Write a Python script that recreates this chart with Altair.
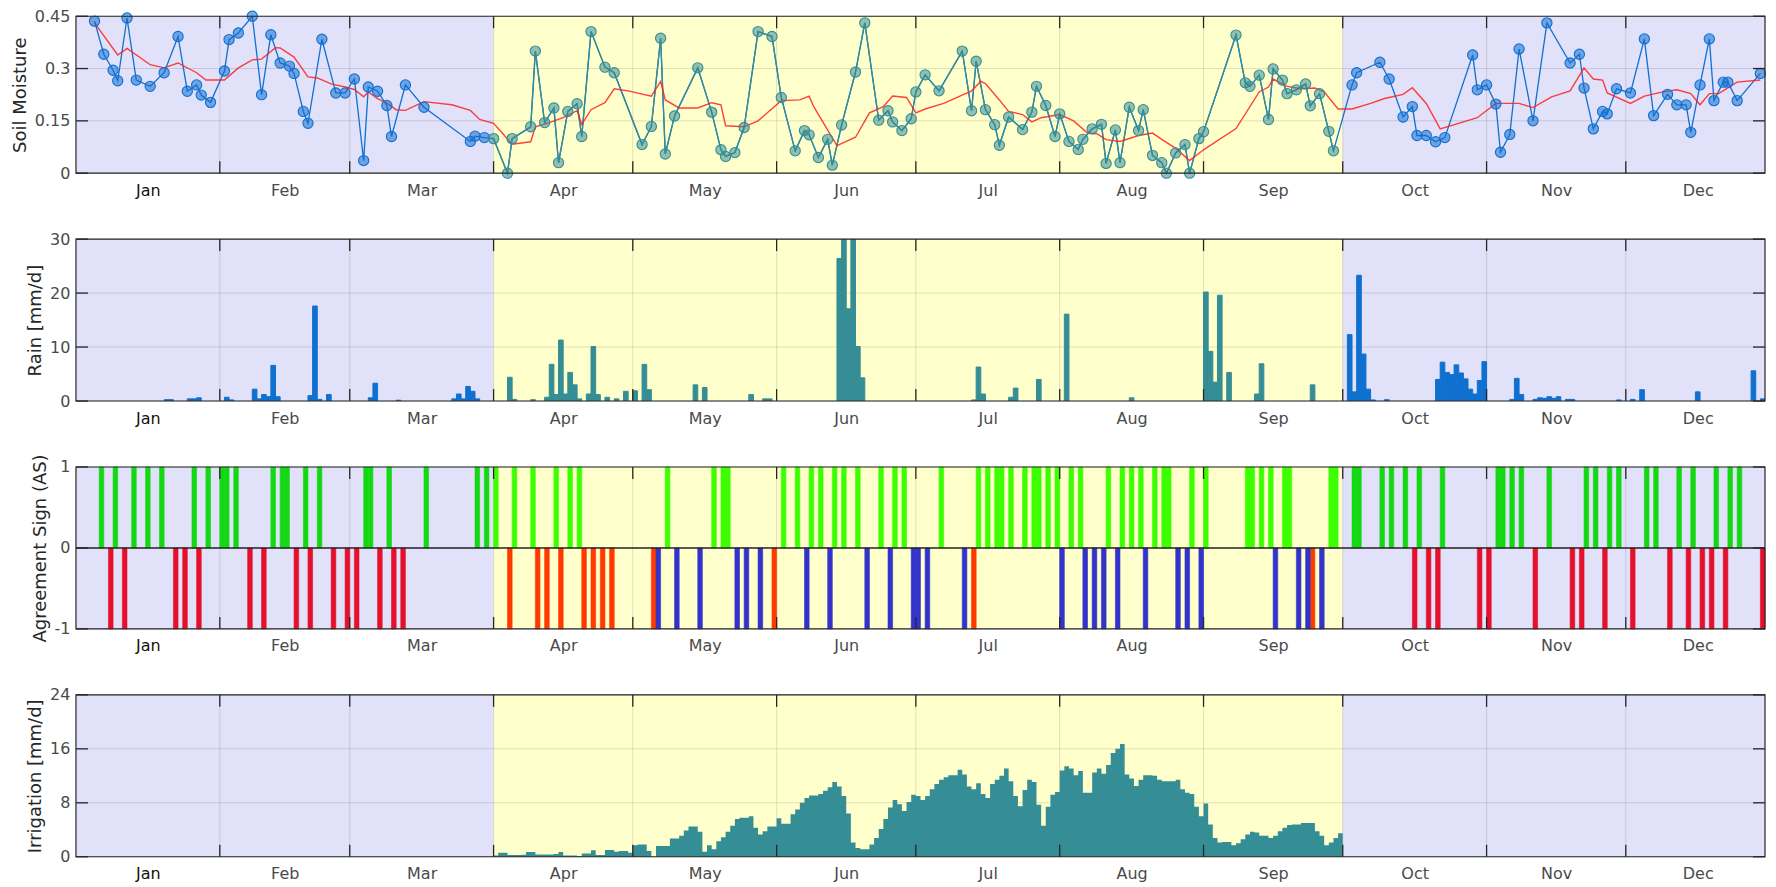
import altair as alt
import pandas as pd

FONT = "DejaVu Sans"
INK = "#262626"
LABEL_GREY = "#4a4a4a"
W = 1690
H1 = 157
H = 162
TL = 12

MONTHS = ["Jan", "Feb", "Mar", "Apr", "May", "Jun", "Jul", "Aug", "Sep", "Oct", "Nov", "Dec"]
MONTH_START = [1, 32, 60, 91, 121, 152, 182, 213, 244, 274, 305, 335]
MONTH_LEN = [31, 28, 31, 30, 31, 30, 31, 31, 30, 31, 30, 31]
DAY_MIN, DAY_MAX = 1, 365
SEASON_EDGES = [1, 91, 274, 366]
SEASON_KIND = ["off", "irr", "off"]

# soil moisture observations (day of year, value)
SOIL = [
    (5, .436), (7, .341), (9, .295), (10, .265), (12, .445), (14, .267), (17, .249), (20, .288),
    (23, .392), (25, .235), (27, .253), (28, .224), (30, .203), (33, .293), (34, .383), (36, .402),
    (39, .450), (41, .225), (43, .397), (45, .316), (47, .307), (48, .286), (50, .177), (51, .143),
    (54, .384), (57, .230), (59, .230), (61, .270), (63, .036), (64, .247), (66, .235), (68, .194),
    (69, .105), (72, .253), (76, .189), (86, .091), (87, .106), (89, .102),
    (91, .099), (94, .0), (95, .099), (99, .133), (100, .350), (102, .145), (104, .187), (105, .030),
    (107, .177), (109, .199), (110, .105), (112, .406), (115, .304), (117, .288), (123, .082),
    (125, .134), (127, .387), (128, .055), (130, .164), (135, .302), (138, .175), (140, .067),
    (141, .048), (143, .059), (145, .131), (148, .406), (151, .392), (153, .217), (156, .064),
    (158, .122), (159, .110), (161, .045), (163, .097), (164, .023), (166, .138), (169, .290),
    (171, .431), (174, .152), (176, .179), (177, .147), (179, .122), (181, .156), (182, .233),
    (184, .282), (187, .236), (192, .350), (194, .179), (195, .321), (197, .182), (199, .139),
    (200, .080), (202, .161), (205, .125), (207, .175), (208, .249), (210, .194), (212, .105),
    (213, .170), (215, .091), (217, .068), (218, .097), (220, .127), (222, .140), (223, .028),
    (225, .124), (226, .030), (228, .189), (230, .122), (231, .182), (233, .051), (235, .030),
    (236, .0), (238, .058), (240, .082), (241, .0), (243, .099), (244, .119), (251, .396),
    (253, .259), (254, .249), (256, .281), (258, .154), (259, .299), (261, .267), (262, .228),
    (264, .239), (266, .256), (267, .193), (269, .228), (271, .120), (272, .064),
    (276, .253), (277, .288), (282, .318), (284, .270), (287, .161), (289, .191), (290, .108),
    (292, .108), (294, .090), (296, .102), (302, .339), (303, .239), (305, .253), (307, .198),
    (308, .060), (310, .111), (312, .356), (315, .150), (318, .431), (323, .316), (325, .341),
    (326, .244), (328, .127), (330, .177), (331, .170), (333, .242), (336, .230), (339, .385),
    (341, .165), (344, .226), (346, .196), (348, .196), (349, .117), (351, .253), (353, .385),
    (354, .208), (356, .261), (357, .261), (359, .208), (364, .286),
]

# running mean (red line)
RUNMEAN = [
    (5, .431), (10, .339), (12, .358), (17, .311), (20, .302), (23, .316), (27, .288), (29, .267),
    (33, .267), (36, .302), (39, .325), (41, .327), (44, .360), (45, .359), (48, .333), (51, .276),
    (53, .273), (56, .256), (59, .247), (61, .240), (63, .219), (64, .233), (66, .214), (68, .201),
    (70, .182), (72, .180), (76, .205), (82, .196), (86, .180), (88, .154), (91, .143), (93, .113),
    (95, .083), (99, .090), (100, .133), (103, .145), (106, .159), (109, .179), (110, .140),
    (112, .182), (115, .202), (117, .242), (120, .236), (125, .221), (127, .263), (128, .210),
    (131, .187), (135, .187), (138, .202), (140, .196), (141, .136), (145, .133), (148, .150),
    (153, .208), (157, .210), (159, .221), (160, .191), (165, .079), (169, .103), (172, .173),
    (175, .191), (177, .221), (180, .217), (182, .173), (184, .184), (188, .200), (194, .236),
    (196, .263), (197, .257), (200, .210), (202, .177), (205, .168), (207, .147), (209, .159),
    (213, .168), (216, .150), (219, .115), (221, .113), (223, .096), (226, .091), (230, .108),
    (233, .115), (235, .097), (238, .071), (241, .036), (244, .067), (251, .128), (256, .233),
    (258, .247), (259, .270), (262, .249), (265, .242), (268, .244), (270, .233), (273, .184),
    (276, .184), (280, .200), (283, .214), (287, .226), (289, .245), (292, .200), (295, .127),
    (303, .159), (307, .200), (312, .200), (315, .188), (319, .219), (323, .236), (326, .302),
    (328, .270), (330, .267), (331, .230), (336, .200), (339, .221), (343, .233), (346, .239),
    (349, .228), (351, .196), (353, .228), (355, .228), (359, .261), (364, .267),
]

# daily rain, only the non-zero days (day, mm/d)
RAIN = [
    (20, .25), (21, .25), (25, .4), (26, .4), (27, .6),
    (33, .7), (34, .2), (39, 2.2), (40, .4), (41, 1.2), (42, .8), (43, 6.6), (44, .8), (51, 1.0),
    (52, 17.6), (53, .3), (55, 1.2),
    (64, .6), (65, 3.3), (70, .15), (82, .4), (83, 1.3), (84, .4), (85, 2.7), (86, 1.8), (87, .4),
    (94, 4.4), (95, .3), (99, .25), (102, .7), (103, 6.8), (104, 1.2), (105, 11.3), (106, 1.3),
    (107, 5.3), (108, 3.0), (109, .4), (111, 1.3), (112, 10.1), (113, 1.2), (115, .7), (117, .4),
    (119, 1.8),
    (121, 1.9), (123, 6.8), (124, 2.1), (134, 3.0), (136, 2.5), (146, 1.2), (149, .4), (150, .4),
    (165, 26.4), (166, 34.0), (167, 17.1), (168, 33.0), (169, 10.1), (170, 4.3),
    (194, .2), (195, 6.3), (196, 1.3), (202, .7), (203, 2.4), (208, 4.0),
    (214, 16.1), (228, .6),
    (244, 20.2), (245, 9.2), (246, 3.5), (247, 19.6), (249, 5.3), (255, 1.3), (256, 6.9), (267, 3.0),
    (275, 12.3), (276, 1.7), (277, 23.3), (278, 8.7), (279, 2.2), (280, .2), (283, .25),
    (294, 4.0), (295, 7.2), (296, 5.3), (297, 4.9), (298, 6.7), (299, 5.2), (300, 4.1), (301, 2.2),
    (302, 1.3), (303, 3.8), (304, 7.3),
    (310, .3), (311, 4.2), (312, 1.2), (315, .3), (316, .6), (317, .5), (318, .8), (319, .5),
    (320, .8), (322, .3), (323, .3), (333, .2),
    (336, .3), (338, 2.1), (350, 1.7), (362, 5.6), (364, .4),
]

# agreement sign days
AGREE_DAYS = [
    6, 9, 13, 16, 19, 26, 29, 32, 33, 35, 43, 45, 46, 50, 53, 63, 64, 68, 76, 87, 89,
    91, 95, 99, 104, 107, 109, 128, 138, 140, 141, 153, 156, 159, 161, 164, 166, 169, 174, 177,
    179, 187, 195, 197, 199, 200, 202, 205, 207, 208, 210, 212, 215, 217, 223, 226, 228, 230, 233,
    235, 236, 241, 244, 253, 254, 256, 258, 261, 262, 271, 272,
    276, 277, 282, 284, 287, 290, 295, 307, 308, 310, 312, 318, 326, 328, 331, 333, 339, 341, 346,
    349, 354, 357, 359,
]
DISAGREE_DAYS = [
    8, 11, 22, 24, 27, 38, 41, 48, 51, 56, 59, 61, 66, 69, 71,
    94, 100, 102, 105, 110, 112, 114, 116, 125, 151, 194, 267,
    289, 292, 294, 303, 305, 315, 323, 325, 330, 336, 344, 348, 351, 353, 356, 364,
]
IRRIGATED_DRY_DAYS = [
    126, 130, 135, 143, 145, 148, 158, 163, 171, 176, 181, 182, 184, 192, 213, 218, 220, 222,
    225, 231, 238, 240, 243, 259, 264, 266, 269,
]

# daily irrigation, Apr 1 .. Sep 30
IRR_APR = [0.2, 0.6, 0.6, 0.25, 0.25, 0.25, 0.3, 0.7, 0.7, 0.35, 0.35, 0.35, 0.35, 0.4, 0.7,
           0.2, 0.2, 0.2, 0.1, 0.5, 0.5, 0.95, 0.25, 0.25, 1.0, 1.0, 0.75, 0.85, 0.85, 0.6]
IRR_MAY = [1.7, 1.8, 1.8, 0.85, 0.0, 1.6, 1.6, 1.6, 2.7, 2.7, 3.1, 3.9, 4.5, 4.5, 3.7, 0.75,
           1.7, 1.1, 2.3, 2.9, 3.7, 4.6, 5.6, 5.8, 5.8, 6.0, 4.3, 3.3, 3.8, 4.5, 4.5]
IRR_JUN = [5.7, 4.9, 4.9, 6.3, 7.0, 8.0, 8.7, 9.1, 9.1, 9.3, 9.8, 10.3, 11.1, 10.4, 9.0, 6.4,
           2.1, 1.3, 1.1, 1.1, 1.8, 2.8, 4.1, 5.6, 7.3, 8.4, 7.8, 6.8, 8.1, 9.2]
IRR_JUL = [9.0, 8.4, 9.0, 10.0, 10.8, 11.4, 11.8, 12.1, 12.1, 12.9, 12.2, 10.4, 10.0, 10.9, 9.3,
           8.7, 10.8, 11.4, 12.0, 13.1, 11.2, 9.0, 7.5, 9.9, 11.4, 11.1, 7.7, 4.6, 7.4, 9.2, 9.6]
IRR_AUG = [12.8, 13.4, 13.1, 12.1, 12.7, 9.5, 9.5, 12.5, 13.1, 12.3, 13.6, 15.4, 16.0, 16.7,
           12.2, 11.6, 10.5, 11.4, 12.1, 12.1, 12.0, 11.4, 11.2, 11.2, 11.2, 11.4, 10.0, 9.5, 9.3,
           7.4, 6.0]
IRR_SEP = [7.9, 4.8, 2.8, 2.1, 2.2, 2.2, 1.7, 2.0, 2.6, 3.3, 3.7, 3.6, 3.1, 3.1, 2.8, 3.1, 3.8,
           4.3, 4.7, 4.8, 4.8, 5.0, 5.0, 5.0, 3.8, 3.1, 1.7, 2.1, 2.8, 3.5]

SM_TICKS = [0, 0.15, 0.3, 0.45]
RAIN_TICKS = [0, 10, 20, 30]
AS_TICKS = [-1, 0, 1]
IRR_TICKS = [0, 8, 16, 24]

# colours
BG_COL = ["#e1e1fa", "#ffffcc"]
BLUE = "#1070d0"
TEAL = "#358d95"
RED = "#ff1f1f"
AS_KEYS = ["agree_off", "agree_irr", "dis_off", "dis_irr", "irr"]
AS_COLS = ["#14d814", "#3cff00", "#e4102c", "#ff3a00", "#3333cc"]


def season(d):
    return "irr" if SEASON_EDGES[1] <= d < SEASON_EDGES[2] else "off"


# ---------- data frames ----------
bg_df = pd.DataFrame({"s": SEASON_EDGES[:-1], "e": SEASON_EDGES[1:], "kind": SEASON_KIND})
ms_df = pd.DataFrame({"m": MONTH_START[1:]})
one_df = pd.DataFrame({"k": [0]})

sm_df = pd.DataFrame(SOIL, columns=["day", "sm"])
sm_df["season"] = [season(d) for d in sm_df["day"]]
sm_season_df = sm_df[sm_df["season"] == "irr"]
ma_df = pd.DataFrame(RUNMEAN, columns=["day", "ma"])

rain_df = pd.DataFrame(RAIN, columns=["day", "rain"])
rain_df["end"] = rain_df["day"] + 1
rain_df["base"] = 0
rain_df["season"] = [season(d) for d in rain_df["day"]]

as_rows = []
for d in AGREE_DAYS:
    as_rows.append((d, 1, "agree_" + season(d)))
for d in DISAGREE_DAYS:
    as_rows.append((d, -1, "dis_" + season(d)))
for d in IRRIGATED_DRY_DAYS:
    as_rows.append((d, -1, "irr"))
as_df = pd.DataFrame(as_rows, columns=["day", "sign", "key"])
as_df["end"] = as_df["day"] + 1
as_df["base"] = 0

# daily steps: each day's value holds until the next day; the last step closes at season end
irr_vals = IRR_APR + IRR_MAY + IRR_JUN + IRR_JUL + IRR_AUG + IRR_SEP
irr_days = [MONTH_START[3] + i for i in range(len(irr_vals))]
irr_df = pd.DataFrame({"day": irr_days + [SEASON_EDGES[2]], "irr": irr_vals + irr_vals[-1:]})
irr_df["base"] = 0

# ---------- shared x axis ----------
MID = [s + l / 2 for s, l in zip(MONTH_START, MONTH_LEN)]
label_expr = "[" + ",".join("'%s'" % m for m in MONTHS) + "][" + "+".join(
    "(datum.value>=%d)" % s for s in MONTH_START[1:]) + "]"
xscale = alt.Scale(domain=[DAY_MIN, DAY_MAX], nice=False, zero=False)
xaxis = alt.Axis(values=MID, labelExpr=label_expr, title=None, grid=False, ticks=False,
                 domain=False, labelFlush=False, labelOverlap=False, labelPadding=9,
                 labelFontSize=16, labelFont=FONT,
                 labelColor={"condition": {"test": "datum.value < 32", "value": "#111111"},
                             "value": LABEL_GREY})


def X(f):
    return alt.X(f + ":Q", scale=xscale, axis=xaxis)


def panel(h, ydomain, yticks, ytitle, data_layers):
    yscale = alt.Scale(domain=ydomain, nice=False, zero=False)
    yaxis = alt.Axis(values=yticks, title=ytitle, grid=False, ticks=False, domain=False,
                     labelExpr="'' + datum.value", labelFontSize=16, labelFont=FONT,
                     labelColor=LABEL_GREY, labelPadding=6, titleFont=FONT, titleFontSize=18,
                     titleFontWeight="normal", titleColor=INK, titlePadding=5)

    def Y(f):
        return alt.Y(f + ":Q", scale=yscale, axis=yaxis)

    yt_df = pd.DataFrame({"yv": yticks})
    bg = alt.Chart(bg_df).mark_rect(clip=True).encode(
        x=X("s"), x2="e", y=alt.value(0), y2=alt.value(h),
        color=alt.Color("kind:N", scale=alt.Scale(domain=["off", "irr"], range=BG_COL), legend=None))
    vgrid = alt.Chart(ms_df).mark_rule(color=INK, opacity=0.15, strokeWidth=1).encode(
        x=X("m"), y=alt.value(0), y2=alt.value(h))
    hgrid = alt.Chart(yt_df).mark_rule(color=INK, opacity=0.15, strokeWidth=1).encode(
        y=Y("yv"), x=alt.value(0), x2=alt.value(W))
    layers = [bg, vgrid, hgrid] + data_layers(Y)
    tick_style = dict(color=INK, strokeWidth=1.3)
    layers += [
        alt.Chart(ms_df).mark_rule(**tick_style).encode(x=X("m"), y=alt.value(0), y2=alt.value(TL)),
        alt.Chart(ms_df).mark_rule(**tick_style).encode(x=X("m"), y=alt.value(h - TL), y2=alt.value(h)),
        alt.Chart(yt_df).mark_rule(**tick_style).encode(y=Y("yv"), x=alt.value(0), x2=alt.value(TL)),
        alt.Chart(yt_df).mark_rule(**tick_style).encode(y=Y("yv"), x=alt.value(W - TL), x2=alt.value(W)),
        alt.Chart(one_df).mark_rect(fillOpacity=0, stroke=INK, strokeWidth=1.2).encode(
            x=alt.value(0), x2=alt.value(W), y=alt.value(0), y2=alt.value(h)),
    ]
    return alt.layer(*layers).properties(width=W, height=h).resolve_scale(
        color="independent", stroke="independent")


def soil_layers(Y):
    seas = alt.Scale(domain=["off", "irr"], range=[BLUE, TEAL])
    return [
        alt.Chart(sm_df).mark_line(color=BLUE, strokeWidth=1.3).encode(x=X("day"), y=Y("sm")),
        alt.Chart(sm_season_df).mark_line(color=TEAL, strokeWidth=1.3).encode(x=X("day"), y=Y("sm")),
        alt.Chart(ma_df).mark_line(color=RED, strokeWidth=1.4, opacity=0.85).encode(x=X("day"), y=Y("ma")),
        alt.Chart(sm_df).mark_point(shape="circle", filled=True, size=105, fillOpacity=0.55,
                                    strokeOpacity=1, strokeWidth=1.1).encode(
            x=X("day"), y=Y("sm"),
            color=alt.Color("season:N", scale=seas, legend=None),
            stroke=alt.Stroke("season:N", scale=seas, legend=None)),
    ]


def rain_layers(Y):
    seas = alt.Scale(domain=["off", "irr"], range=[BLUE, TEAL])
    return [
        alt.Chart(rain_df).mark_rect(clip=True, strokeWidth=1).encode(
            x=X("day"), x2="end", y=Y("rain"), y2="base",
            color=alt.Color("season:N", scale=seas, legend=None),
            stroke=alt.Stroke("season:N", scale=seas, legend=None)),
    ]


def as_layers(Y):
    return [
        alt.Chart(as_df).mark_rect(strokeWidth=0.6).encode(
            x=X("day"), x2="end", y=Y("sign"), y2="base",
            color=alt.Color("key:N", scale=alt.Scale(domain=AS_KEYS, range=AS_COLS), legend=None),
            stroke=alt.Stroke("key:N", scale=alt.Scale(domain=AS_KEYS, range=AS_COLS), legend=None)),
        alt.Chart(pd.DataFrame({"z": [0]})).mark_rule(color=INK, strokeWidth=1.6).encode(
            y=Y("z"), x=alt.value(0), x2=alt.value(W)),
    ]


def irr_layers(Y):
    return [
        alt.Chart(irr_df).mark_area(color=TEAL, interpolate="step-after", opacity=1).encode(
            x=X("day"), y=Y("irr"), y2="base"),
    ]


p1 = panel(H1, [0, 0.45], SM_TICKS, "Soil Moisture", soil_layers)
p2 = panel(H, [0, 30], RAIN_TICKS, "Rain [mm/d]", rain_layers)
p3 = panel(H, [-1, 1], AS_TICKS, "Agreement Sign (AS)", as_layers)
p4 = panel(H, [0, 24], IRR_TICKS, "Irrigation [mm/d]", irr_layers)

chart = alt.vconcat(p1, p2, p3, p4, spacing=66, bounds="flush").configure(
    padding={"left": 3, "top": 0, "right": 0, "bottom": 0}, font=FONT, background="white"
).configure_view(stroke=None)

chart.save("out.html", embed_options={"renderer": "svg", "actions": False})
